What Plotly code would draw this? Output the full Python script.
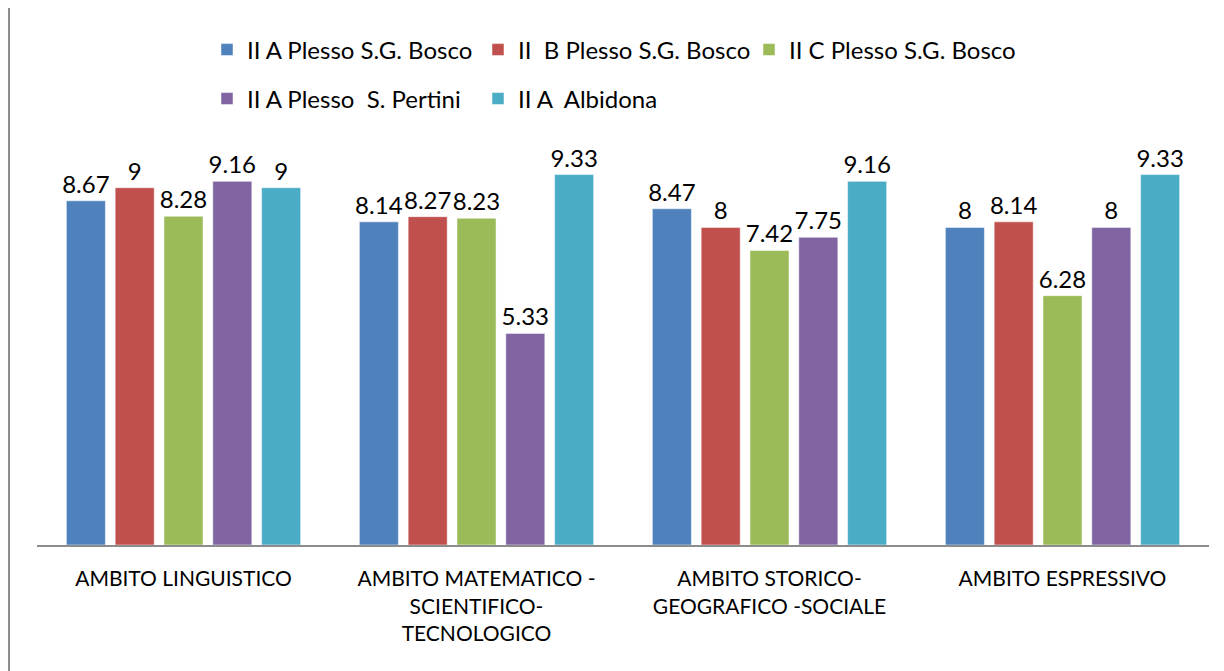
import plotly.graph_objects as go

categories = [
    "AMBITO LINGUISTICO",
    "AMBITO MATEMATICO -<br>SCIENTIFICO-<br>TECNOLOGICO",
    "AMBITO STORICO-<br>GEOGRAFICO -SOCIALE",
    "AMBITO ESPRESSIVO",
]

series_names = [
    "II A Plesso S.G. Bosco",
    "II  B Plesso S.G. Bosco",
    "II C Plesso S.G. Bosco",
    "II A Plesso  S. Pertini",
    "II A  Albidona",
]

ii_a_sg_bosco = [8.67, 8.14, 8.47, 8]
ii_b_sg_bosco = [9, 8.27, 8, 8.14]
ii_c_sg_bosco = [8.28, 8.23, 7.42, 6.28]
ii_a_pertini = [9.16, 5.33, 7.75, 8]
ii_a_albidona = [9, 9.33, 9.16, 9.33]

series_values = [ii_a_sg_bosco, ii_b_sg_bosco, ii_c_sg_bosco, ii_a_pertini, ii_a_albidona]
colors = ["#4F81BD", "#C0504D", "#9BBB59", "#8064A2", "#4BACC6"]
legend_ids = ["legend", "legend", "legend", "legend2", "legend2"]

FONT = "Lato, 'Noto Sans', sans-serif"

# the page body has an 8px margin, so the figure is 8px smaller each way
W, H = 1216, 663

fig = go.Figure()
for name, vals, col, lg in zip(series_names, series_values, colors, legend_ids):
    fig.add_trace(go.Bar(
        name=name,
        x=categories,
        y=vals,
        marker=dict(color=col, line=dict(color="rgba(255,255,255,0.5)", width=1)),
        text=[f"{v:g}" for v in vals],
        textposition="outside",
        textfont=dict(size=24, color="black", family=FONT),
        constraintext="none",
        cliponaxis=False,
        legend=lg,
    ))

legend_common = dict(
    orientation="h",
    xref="container",
    yref="container",
    xanchor="left",
    yanchor="middle",
    font=dict(size=24, color="black", family=FONT),
    entrywidth=226,
    traceorder="normal",
    bgcolor="rgba(0,0,0,0)",
)

fig.update_layout(
    width=W,
    height=H,
    margin=dict(l=29, r=15, t=140, b=126, autoexpand=False),
    paper_bgcolor="white",
    plot_bgcolor="white",
    barmode="group",
    bargap=0.167,
    bargroupgap=0.2,
    font=dict(family=FONT, size=21, color="black"),
    legend=dict(x=199 / W, y=1 - 42 / H, **legend_common),
    legend2=dict(x=199 / W, y=1 - 91 / H, **legend_common),
    xaxis=dict(
        showline=True,
        linecolor="#8c8c8c",
        linewidth=2,
        showgrid=False,
        ticks="",
        automargin=False,
        ticklabelstandoff=14,
        tickfont=dict(size=21, color="black", family=FONT),
    ),
    yaxis=dict(
        range=[0, 10],
        visible=False,
        showgrid=False,
        zeroline=False,
        automargin=False,
    ),
    shapes=[
        dict(type="line", xref="paper", yref="paper",
             x0=-28 / 1172, x1=-28 / 1172, y0=-126 / 397, y1=140 / 397 + 1,
             line=dict(color="#8c8c8c", width=2)),
    ],
)

fig.write_html("out.html")
